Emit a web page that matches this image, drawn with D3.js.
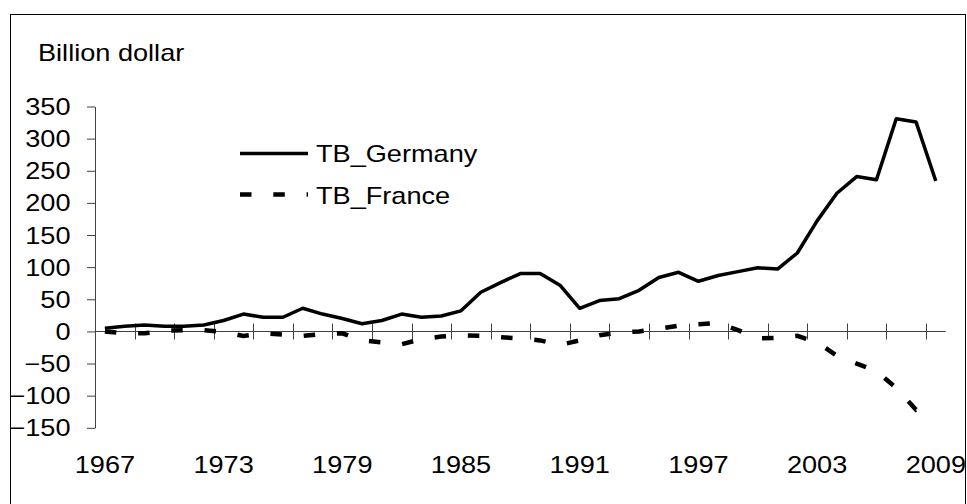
<!DOCTYPE html>
<html>
<head>
<meta charset="utf-8">
<script src="https://cdn.jsdelivr.net/npm/d3@7"></script>
<style>
    body { margin: 0; background: #fff; }
    text { font-family: "Liberation Sans", Arial, sans-serif; fill: #000; }
</style>
</head>
<body>
<div id="chart"></div>
<script>
// data (billion dollar)
const years = [1967, 1968, 1969, 1970, 1971, 1972, 1973, 1974, 1975, 1976,
    1977, 1978, 1979, 1980, 1981, 1982, 1983, 1984, 1985, 1986,
    1987, 1988, 1989, 1990, 1991, 1992, 1993, 1994, 1995, 1996,
    1997, 1998, 1999, 2000, 2001, 2002, 2003, 2004, 2005, 2006,
    2007, 2008, 2009];
const tbGermany = [5, 8, 10, 8, 8, 10, 17, 27, 22, 22,
    36, 27, 20, 12, 17, 27, 22, 24, 32, 61,
    76, 90, 90, 72, 36, 48, 51, 64, 84, 92,
    78, 87, 93, 99, 97, 122, 172, 215, 241, 236,
    331, 326, 234];
const tbFrance = [0, -3, -3, 1, 2, 2, -1, -7, -3, -5,
    -7, -4, -3, -14, -17, -20, -12, -8, -6, -7,
    -9, -11, -14, -21, -14, -6, -2, 0, 4, 9,
    11, 13, 2, -11, -10, -7, -17, -38, -50, -62,
    -88, -122, -108];
const yTicks = [-150, -100, -50, 0, 50, 100, 150, 200, 250, 300, 350];
const xLabelYears = [1967, 1973, 1979, 1985, 1991, 1997, 2003, 2009];
const seriesNames = ["TB_Germany", "TB_France"];
const unitLabel = "Billion dollar";

// layout
const svgWidth = 967,
    svgHeight = 504,
    plot = { left: 95, right: 945.7, top: 106.5, bottom: 427.8 },
    fontSize = 23,
    stretch = 1.18; // the original text is a bit wide
const axisColor = "#404040";

let svg = d3.select("#chart").append("svg")
    .attr("width", svgWidth)
    .attr("height", svgHeight);

// outer frame
svg.append("rect")
    .attr("x", 10.5)
    .attr("y", 14.5)
    .attr("width", 955)
    .attr("height", 500)
    .attr("fill", "none")
    .attr("stroke", "#000")
    .attr("stroke-width", 1);

// scales
let xScale = d3.scaleBand()
    .domain(years)
    .range([plot.left, plot.right]);
let yScale = d3.scaleLinear()
    .domain([-150, 350])
    .range([plot.bottom, plot.top]);

function stretchedText(g, x, y, str, anchor) {
    return g.append("text")
        .attr("transform", `translate(${x},${y}) scale(${stretch},1)`)
        .attr("text-anchor", anchor || "start")
        .attr("font-size", fontSize)
        .text(str);
}

// y axis
let yAxis = svg.append("g")
    .attr("transform", `translate(${plot.left},0)`)
    .call(d3.axisLeft(yScale).tickValues(yTicks).tickSize(8).tickSizeOuter(0));
yAxis.select(".domain").attr("stroke", axisColor);
yAxis.selectAll(".tick line").attr("stroke", axisColor);
yAxis.selectAll(".tick text")
    .attr("x", null)
    .attr("dy", "0.35em")
    .attr("font-size", fontSize)
    .attr("font-family", null)
    .attr("transform", `translate(-24.5,0) scale(${stretch},1)`);

// x axis (category axis, ticks between every 2nd category)
let y0 = Math.round(yScale(0)) + 0.5;
let xAxis = svg.append("g");
xAxis.append("line")
    .attr("x1", plot.left + 0.5)
    .attr("x2", plot.right)
    .attr("y1", y0)
    .attr("y2", y0)
    .attr("stroke", axisColor);
xAxis.selectAll(".xtick")
    .data(years.filter((d, i) => i % 2 == 0))
    .join("line")
    .attr("class", "xtick")
    .attr("x1", (d) => Math.round(xScale(d)) + 0.5)
    .attr("x2", (d) => Math.round(xScale(d)) + 0.5)
    .attr("y1", y0 - 8)
    .attr("y2", y0 + 8)
    .attr("stroke", axisColor);
xLabelYears.forEach((yr) => {
    stretchedText(xAxis, xScale(yr) + xScale.bandwidth() / 2, 473, yr, "middle");
});

// unit label
stretchedText(svg, 38, 61, unitLabel);

// lines
let line = d3.line()
    .x((d, i) => xScale(years[i]) + xScale.bandwidth() / 2)
    .y((d) => yScale(d));

svg.append("path")
    .datum(tbGermany)
    .attr("d", line)
    .attr("fill", "none")
    .attr("stroke", "#000")
    .attr("stroke-width", 3.5)
    .attr("stroke-linejoin", "round");

svg.append("path")
    .datum(tbFrance)
    .attr("d", line)
    .attr("fill", "none")
    .attr("stroke", "#000")
    .attr("stroke-width", 4.5)
    .attr("stroke-dasharray", "11.5,21.8");

// legend
let legend = svg.append("g");
legend.append("line")
    .attr("x1", 240).attr("x2", 308)
    .attr("y1", 153.5).attr("y2", 153.5)
    .attr("stroke", "#000")
    .attr("stroke-width", 3.5);
stretchedText(legend, 316, 161.5, seriesNames[0]);
legend.append("line")
    .attr("x1", 240).attr("x2", 308)
    .attr("y1", 194.5).attr("y2", 194.5)
    .attr("stroke", "#000")
    .attr("stroke-width", 4.5)
    .attr("stroke-dasharray", "11.5,21.8");
stretchedText(legend, 316, 203.5, seriesNames[1]);
</script>
</body>
</html>
